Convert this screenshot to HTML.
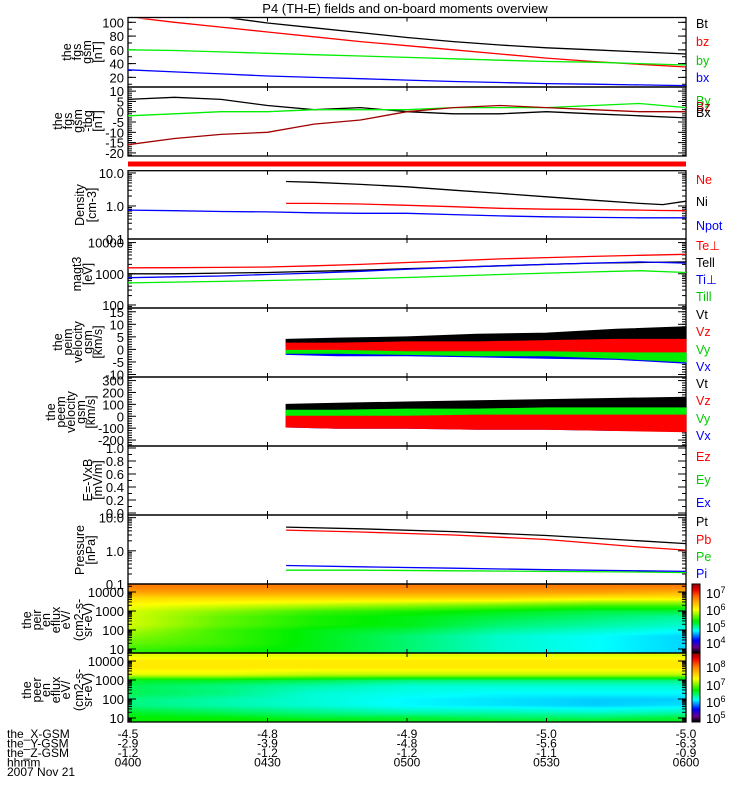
<!DOCTYPE html>
<html><head><meta charset="utf-8">
<style>
body{margin:0;background:#fff;}
#wrap{position:relative;width:750px;height:800px;overflow:hidden;font-family:"Liberation Sans",sans-serif;}
svg{position:absolute;left:0;top:0;}
canvas{position:absolute;}
</style></head>
<body>
<div id="wrap">
<canvas id="cvI" width="558" height="69" style="left:128px;top:584px"></canvas>
<canvas id="cvE" width="558" height="69" style="left:128px;top:653px"></canvas>
<canvas id="cbI" width="8" height="69" style="left:692px;top:584px"></canvas>
<canvas id="cbE" width="8" height="69" style="left:692px;top:653px"></canvas>
<svg id="sv" width="750" height="800"></svg>
</div>
<script>
// ---- data (time in minutes after 0400) ----
const tFull = [0,10,20,30,40,50,60,70,80,90,100,110,120];
const bt = [125,115,108,99,92,85,78,72,67,63,60,57,54];
const bz = [108,100,93,86,79,72,66,60,54,48,43,39,35];
const by = [60,59,57,55,53,51,49,47,45,43,42,40,38];
const bx = [31,28,25,22,20,18,16,14,12.5,11,10,9,8];
const dBx = [6,7,6,3,1,2,0,-1,-1,0,-1,-2,-3];
const dBy = [-2,-1,0,0,1,1,1,2,2,2,3,4,2];
const dBz = [-16,-13,-11,-10,-6,-4,0,2,3,2,1,0,0];
const tMom = [34,40,50,60,70,80,90,100,110,115,120];
const ni = [5.5,5.2,4.5,3.8,3.0,2.4,1.9,1.5,1.2,1.1,1.4];
const ne = [1.2,1.2,1.15,1.05,0.95,0.85,0.8,0.78,0.75,0.73,0.72];
const npot = [0.75,0.72,0.68,0.66,0.62,0.6,0.6,0.55,0.5,0.47,0.45,0.44,0.44];
const tePerp = [1550,1560,1600,1650,1800,2000,2300,2600,3000,3300,3600,3900,4200];
const tePar = [1000,1000,1050,1100,1200,1300,1450,1600,1800,2000,2200,2300,2400];
const tiPerp = [750,800,850,950,1050,1200,1400,1600,1800,2000,2200,2400,2200];
const tiPar = [510,540,570,610,650,700,760,850,950,1050,1150,1250,1100];
const tV = [34,45,60,75,90,105,120];
const v1tHi=[4,4.5,5,6,6.5,8,9], v1tLo=[1,1,1.5,1.5,2,2,2];
const v1zHi=[2.5,2.5,3,3,3.5,4,4], v1zLo=[0,0,-0.5,-0.5,-0.5,-1,-1];
const v1yHi=[1,1,1.5,1.5,1.5,2,2], v1yLo=[-1.5,-1.5,-2,-2.5,-2.5,-3.5,-5];
const v1xHi=[0,0,0,0,0,0,0], v1xLo=[-2,-2.5,-2.5,-3,-3.5,-4,-5.5];
const v2tHi=[100,110,120,130,140,150,160], v2tLo=[20,20,25,25,30,30,30];
const v2yHi=[50,50,60,60,70,70,70], v2yLo=[-40,-50,-50,-60,-60,-70,-70];
const v2xHi=[30,30,30,30,30,30,30], v2xLo=[-90,-100,-100,-110,-110,-120,-120];
const v2zHi=[0,0,0,10,10,10,10], v2zLo=[-90,-100,-100,-110,-110,-120,-130];
const tP = [34,50,70,90,110,120];
const pt=[5.2,4.6,3.8,2.9,2.0,1.65], pb=[4.2,3.7,3.0,2.2,1.3,1.05];
const pe=[0.26,0.26,0.25,0.24,0.23,0.22], pi=[0.36,0.33,0.30,0.27,0.25,0.24];
const specT=[0,20,40,60,80,100,120];
const specE=[20000,10000,5000,2000,1000,500,200,100,50,20,10,7];
const ionFlux=[
[6.7,6.7,6.7,6.7,6.7,6.7,6.7],[6.5,6.5,6.5,6.5,6.5,6.5,6.4],[6.2,6.2,6.2,6.2,6.2,6.1,6.1],
[6.0,5.9,5.8,5.7,5.6,5.5,5.5],[5.9,5.7,5.5,5.4,5.3,5.2,5.2],[5.9,5.6,5.4,5.3,5.2,5.1,5.0],
[5.9,5.6,5.4,5.3,5.1,5.0,4.9],[5.8,5.5,5.3,5.2,5.0,4.9,4.8],[5.7,5.5,5.3,5.1,4.9,4.8,4.7],
[5.6,5.5,5.3,5.1,4.9,4.8,4.7],[5.5,5.4,5.3,5.1,4.9,4.8,4.7],[5.5,5.4,5.3,5.1,4.9,4.8,4.7]];
const eleFlux=[
[7.2,7.2,7.2,7.2,7.2,7.2,7.2],[7.4,7.4,7.4,7.4,7.4,7.4,7.4],[7.4,7.4,7.4,7.4,7.4,7.4,7.4],
[7.2,7.2,7.1,7.1,7.1,7.1,7.1],[6.5,6.5,6.4,6.3,6.3,6.3,6.3],[6.4,6.3,6.2,6.1,6.1,6.1,6.1],
[6.4,6.3,6.1,6.05,6.0,6.0,6.0],[6.3,6.2,6.1,6.0,5.95,5.9,5.9],[6.3,6.2,6.1,6.0,5.95,5.9,5.95],
[6.5,6.4,6.3,6.2,6.2,6.15,6.2],[6.6,6.6,6.5,6.5,6.4,6.4,6.5],[6.6,6.6,6.6,6.5,6.5,6.5,6.5]];
const posX=["-4.5","-4.8","-4.9","-5.0","-5.0"];
const posY=["-2.9","-3.9","-4.8","-5.6","-6.3"];
const posZ=["-1.2","-1.2","-1.2","-1.1","-0.9"];
const hhmm=["0400","0430","0500","0530","0600"];

// ---- helpers ----
const X0=128,X1=686;
const sx=t=>X0+t*(X1-X0)/120;
const NS='http://www.w3.org/2000/svg';
const sv=document.getElementById('sv');
function el(tag,attrs,parent){const e=document.createElementNS(NS,tag);for(const k in attrs)e.setAttribute(k,attrs[k]);(parent||sv).appendChild(e);return e;}
function txt(x,y,s,opt){const e=el('text',Object.assign({x:x,y:y,'font-size':12,'font-family':'Liberation Sans, sans-serif',fill:'#000'},opt||{}));e.textContent=s;return e;}
function lin(min,max,top,bot){return v=>bot-(v-min)/(max-min)*(bot-top);}
function lg(min,max,top,bot){return v=>bot-(Math.log10(v)-Math.log10(min))/(Math.log10(max)-Math.log10(min))*(bot-top);}
function line(ts,vs,fy,color,name){let d='';ts.forEach((t,i)=>{const y=fy(vs[i]);d+=(i?'L':'M')+sx(t).toFixed(1)+','+y.toFixed(1);});
 const p=el('path',{d:d,fill:'none',stroke:color,'stroke-width':1.3});
 
 return p;}
function band(ts,hi,lo,fy,color,name){let d='';ts.forEach((t,i)=>{d+=(i?'L':'M')+sx(t).toFixed(1)+','+fy(hi[i]).toFixed(1);});
 for(let i=ts.length-1;i>=0;i--)d+='L'+sx(ts[i]).toFixed(1)+','+fy(lo[i]).toFixed(1);d+='Z';
 const p=el('path',{d:d,fill:color,stroke:color,'stroke-width':1});
 
 return p;}
function ytick(y,len){el('line',{x1:X0,x2:X0+len,y1:y,y2:y,stroke:'#000'});el('line',{x1:X1-len,x2:X1,y1:y,y2:y,stroke:'#000'});}
function frame(top,bot,name){const r=el('rect',{x:X0,y:top,width:X1-X0,height:bot-top,fill:'none',stroke:'#000','stroke-width':1.3});
 
 
 [30,60,90].forEach(t=>{el('line',{x1:sx(t),x2:sx(t),y1:top,y2:top+4,stroke:'#000'});el('line',{x1:sx(t),x2:sx(t),y1:bot-4,y2:bot,stroke:'#000'});});}
function ylab(lines,xs,cy,name){const g=el('g',{});
 
 
 lines.forEach((s,i)=>{const t=txt(0,0,s,{transform:`translate(${xs[i]},${cy}) rotate(-90)`,'text-anchor':'middle','font-size':12.5},g);});}
function rlab(s,y,c){const t=txt(696,y+5,s,{fill:c,'font-size':12.5});
 
 }
function tlab(s,y){txt(124,y+5,s,{'text-anchor':'end','font-size':13});}
function linTicks(vals,fy,minorStep,min,max){vals.forEach(v=>{ytick(fy(v),8);tlab(String(v),fy(v));});
 for(let v=min;v<=max;v+=minorStep)ytick(fy(v),4);}
function logTicks(decs,fy,labels,lo,hi){for(let d=lo;d<=hi;d++){for(let m=1;m<10;m++){const v=m*Math.pow(10,d);const y=fy(v);if(y<fy.top-0.5||y>fy.bot+0.5)continue;ytick(y,m===1?8:4);}}
 decs.forEach((v,i)=>tlab(labels[i],fy(v)));}

// title
const ti=txt(405,13,'P4 (TH-E) fields and on-board moments overview',{'text-anchor':'middle','font-size':13});


// panel 1
{const top=17.5,bot=87,fy=lin(6,107,top,bot);
 frame(top,bot,'fgs-gsm-panel');linTicks([20,40,60,80,100],fy,10,10,100);
 const cp=el('clipPath',{id:'c1'});el('rect',{x:X0,y:top+1,width:X1-X0,height:bot-top-1},cp);
 const g=el('g',{'clip-path':'url(#c1)'});
 [[bt,'#000','bt-line'],[bz,'#f00','bz-line'],[by,'#0e0','by-line'],[bx,'#00f','bx-line']].forEach(a=>g.appendChild(line(tFull,a[0],fy,a[1],a[2])));
 ylab(['the','fgs','gsm','[nT]'],[71,81,91,102],52,'fgs-gsm-axis-title');
 rlab('Bt',23,'#000');rlab('bz',41,'#f00');rlab('by',60,'#0c0');rlab('bx',77,'#00f');}
// panel 2
{const top=87,bot=156,fy=lin(-21.5,12,top,bot);
 frame(top,bot,'fgs-detrended-panel');linTicks([10,5,0,-5,-10,-15,-20],fy,1,-21,11);
 line(tFull,dBx,fy,'#000','bx-detrended-line');line(tFull,dBy,fy,'#0e0','by-detrended-line');line(tFull,dBz,fy,'#a00000','bz-detrended-line');
 ylab(['the','fgs','gsm','-tbg','[nT]'],[62,72,82,92,102],121,'fgs-detrended-axis-title');
 rlab('By',100,'#0c0');rlab('Bz',106,'#a00000');rlab('Bx',112,'#000');}
// red bar
{const r=el('rect',{x:X0,y:161.5,width:X1-X0,height:5,fill:'#f00'});}
// panel 3 density
{const top=170.7,bot=239,fy=lg(0.1,11.7,top,bot);fy.top=top;fy.bot=bot;
 frame(top,bot,'density-panel');logTicks([10,1,0.1],fy,['10.0','1.0','0.1'],-1,1);
 line(tMom,ni,fy,'#000','ni-line');line(tMom,ne,fy,'#f00','ne-line');line(tFull,npot,fy,'#00f','npot-line');
 ylab(['Density','[cm-3]'],[84,96],205,'density-axis-title');
 rlab('Ne',179,'#f00');rlab('Ni',201,'#000');rlab('Npot',225,'#00f');}
// panel 4 temperature
{const top=239,bot=308,fy=lg(80,13000,top,bot);fy.top=top;fy.bot=bot;
 frame(top,bot,'temperature-panel');logTicks([10000,1000,100],fy,['10000','1000','100'],1,4);
 line(tFull,tePerp,fy,'#f00','te-perp-line');line(tFull,tePar,fy,'#000','te-par-line');line(tFull,tiPerp,fy,'#00f','ti-perp-line');line(tFull,tiPar,fy,'#0e0','ti-par-line');
 ylab(['magt3','[eV]'],[81,92],274,'temperature-axis-title');
 rlab('Te⊥',245,'#f00');rlab('Tell',262,'#000');rlab('Ti⊥',279,'#00f');rlab('Till',296,'#0c0');}
// panel 5 velocity
{const top=308,bot=377,fy=lin(-11,16.5,top,bot);
 frame(top,bot,'peim-velocity-panel');linTicks([15,10,5,0,-5,-10],fy,1,-11,16);
 band(tV,v1tHi,v1tLo,fy,'#000','vt-peim-band');band(tV,v1xHi,v1xLo,fy,'#00f','vx-peim-band');band(tV,v1yHi,v1yLo,fy,'#0e0','vy-peim-band');band(tV,v1zHi,v1zLo,fy,'#f00','vz-peim-band');
 ylab(['the','peim','velocity','gsm','[km/s]'],[62,72,82,92,102],342,'peim-velocity-axis-title');
 rlab('Vt',314,'#000');rlab('Vz',331,'#f00');rlab('Vy',349,'#0c0');rlab('Vx',366,'#00f');}
// panel 6 velocity
{const top=377,bot=446,fy=lin(-250,330,top,bot);
 frame(top,bot,'peem-velocity-panel');linTicks([300,200,100,0,-100,-200],fy,20,-240,320);
 band(tV,v2tHi,v2tLo,fy,'#000','vt-peem-band');band(tV,v2xHi,v2xLo,fy,'#00f','vx-peem-band');band(tV,v2yHi,v2yLo,fy,'#0e0','vy-peem-band');band(tV,v2zHi,v2zLo,fy,'#f00','vz-peem-band');
 ylab(['the','peem','velocity','gsm','[km/s]'],[55,65,75,85,95],412,'peem-velocity-axis-title');
 rlab('Vt',383,'#000');rlab('Vz',400,'#f00');rlab('Vy',418,'#0c0');rlab('Vx',435,'#00f');}
// panel 7 E field
{const top=446,bot=515,fy=lin(0,1,top+2,bot-2);
 frame(top,bot,'efield-panel');
 [0,0.2,0.4,0.6,0.8,1.0].forEach(v=>{ytick(fy(v),8);tlab(v.toFixed(1),fy(v));});
 for(let v=0.1;v<1;v+=0.2)ytick(fy(v),4);
 ylab(['E=-VxB','[mV/m]'],[92,102],480,'efield-axis-title');
 rlab('Ez',456,'#f00');rlab('Ey',479,'#0c0');rlab('Ex',502,'#00f');}
// panel 8 pressure
{const top=515,bot=584,fy=lg(0.1,12,top,bot);fy.top=top;fy.bot=bot;
 frame(top,bot,'pressure-panel');logTicks([10,1,0.1],fy,['10.0','1.0','0.1'],-1,1);
 line(tP,pt,fy,'#000','pt-line');line(tP,pb,fy,'#f00','pb-line');line(tP,pe,fy,'#0e0','pe-line');line(tP,pi,fy,'#00f','pi-line');
 ylab(['Pressure','[nPa]'],[84,95],550,'pressure-axis-title');
 rlab('Pt',521,'#000');rlab('Pb',539,'#f00');rlab('Pe',556,'#0c0');rlab('Pi',573,'#00f');}

// colormap
const stops=[[0,[0,0,0]],[0.07,[110,0,130]],[0.18,[0,0,255]],[0.32,[0,255,255]],[0.46,[0,240,0]],[0.63,[255,255,0]],[0.8,[255,130,0]],[0.92,[240,0,0]],[1,[160,0,0]]];
function cmap(f){f=Math.max(0,Math.min(1,f));for(let i=1;i<stops.length;i++){if(f<=stops[i][0]){const a=stops[i-1],b=stops[i],u=(f-a[0])/(b[0]-a[0]);return a[1].map((c,k)=>Math.round(c+(b[1][k]-c)*u));}}return stops[stops.length-1][1];}
function interp(xs,x){if(x<=xs[0])return 0;for(let i=1;i<xs.length;i++)if(x<=xs[i])return i-1+(x-xs[i-1])/(xs[i]-xs[i-1]);return xs.length-1;}
function spec(id,grid,cmin,cmax,fE){const c=document.getElementById(id),ctx=c.getContext('2d');const img=ctx.createImageData(c.width,c.height);
 const lE=specE.map(e=>Math.log10(e));
 for(let py=0;py<c.height;py++){const le=fE(py);let r=0;
  if(le<lE[lE.length-1])r=lE.length-1;
  for(let i=1;i<lE.length;i++){if(le<=lE[i-1]&&le>=lE[i]){r=i-1+(lE[i-1]-le)/(lE[i-1]-lE[i]);break;}}
  const r0=Math.min(Math.floor(r),lE.length-1),r1=Math.min(r0+1,lE.length-1),ur=r-r0;
  for(let px=0;px<c.width;px++){const t=px*120/c.width;const ci=interp(specT,t);const c0=Math.floor(ci),c1=Math.min(c0+1,specT.length-1),uc=ci-c0;
   const v=(grid[r0][c0]*(1-uc)+grid[r0][c1]*uc)*(1-ur)+(grid[r1][c0]*(1-uc)+grid[r1][c1]*uc)*ur;
   const col=cmap((v-cmin)/(cmax-cmin));const k=(py*c.width+px)*4;img.data[k]=col[0];img.data[k+1]=col[1];img.data[k+2]=col[2];img.data[k+3]=255;}}
 ctx.putImageData(img,0,0);}
function cbar(id){const c=document.getElementById(id),ctx=c.getContext('2d');for(let y=0;y<c.height;y++){const col=cmap(1-y/(c.height-1));ctx.fillStyle=`rgb(${col})`;ctx.fillRect(0,y,c.width,1);}}
const fE=py=>4-(py-8)*3/57;
spec('cvI',ionFlux,3.53,7.47,fE);spec('cvE',eleFlux,4.7,8.8,fE);cbar('cbI');cbar('cbE');

// spectrogram frames & labels
[[584,653,'ion-spectrogram-frame'],[653,722,'electron-spectrogram-frame']].forEach(p=>{frame(p[0],p[1],p[2]);
 const fy=v=>p[0]+8+(4-Math.log10(v))*57/3;
 for(let d=0;d<=4;d++)for(let m=1;m<10;m++){const v=m*Math.pow(10,d);const y=fy(v);if(y<p[0]||y>p[1])continue;ytick(y,m===1?8:4);}
 [10000,1000,100,10].forEach(v=>tlab(String(v),fy(v)));
 el('rect',{x:692,y:p[0],width:8,height:69,fill:'none',stroke:'#000'});});
function sup(x,y,base,exp){const t=txt(x,y,base,{'font-size':13});const s=el('tspan',{dy:-5,'font-size':9});s.textContent=exp;t.appendChild(s);}
sup(706,598,'10','7');sup(706,615,'10','6');sup(706,632,'10','5');sup(706,648,'10','4');
sup(706,672,'10','8');sup(706,690,'10','7');sup(706,707,'10','6');sup(706,723,'10','5');
ylab(['the','peir','en','eflux','eV/','(cm2-s-','sr-eV)'],[31,41,50,60,70,83,92],620,'ion-eflux-axis-title');
ylab(['the','peer','en','eflux','eV/','(cm2-s-','sr-eV)'],[31,41,50,60,70,83,92],690,'electron-eflux-axis-title');

// bottom labels
const rowsL=['the_X-GSM','the_Y-GSM','the_Z-GSM','hhmm'];const rowsV=[posX,posY,posZ,hhmm];
rowsL.forEach((s,i)=>{const y=738+i*9.5;txt(7,y,s,{'font-size':12});rowsV[i].forEach((v,j)=>{const t=txt(sx(j*30),y,v,{'font-size':12,'text-anchor':'middle'});});});
txt(7,776,'2007 Nov 21',{'font-size':12});
</script>
</body></html>
